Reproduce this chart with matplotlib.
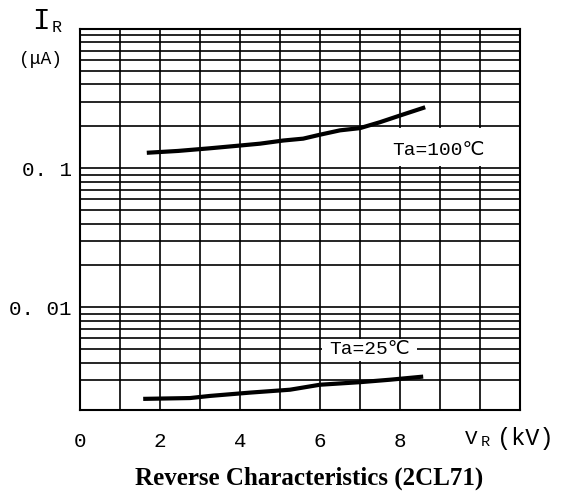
import matplotlib
matplotlib.use("Agg")
import matplotlib.pyplot as plt
from matplotlib.patches import Rectangle
from matplotlib.ticker import FixedLocator, NullFormatter

# ---- data ----
v_100 = [1.67, 2.45, 3.25, 3.95, 4.5, 5.08, 5.58, 6.0, 6.5, 7.0, 7.5, 8.0, 8.63]
i_100 = [0.129, 0.133, 0.139, 0.145, 0.150, 0.158, 0.163, 0.174, 0.187, 0.194, 0.214, 0.239, 0.274]

v_25 = [1.58, 2.75, 3.25, 4.25, 5.25, 6.0, 7.0, 7.75, 8.58]
i_25 = [0.00220, 0.00223, 0.00231, 0.00244, 0.00256, 0.00278, 0.00290, 0.00302, 0.00318]

x_ticks = [0, 2, 4, 6, 8]
x_ticklabels = ["0", "2", "4", "6", "8"]
y_ticks = [0.01, 0.1]
y_ticklabels = ["0. 01", "0. 1"]
y_minor = [0.003, 0.004, 0.005, 0.006, 0.007, 0.008, 0.009,
           0.02, 0.03, 0.04, 0.05, 0.06, 0.07, 0.08, 0.09,
           0.2, 0.3, 0.4, 0.5, 0.6, 0.7, 0.8, 0.9, 1.0]
x_grid = list(range(0, 12))

W, H = 566, 496
fig = plt.figure(figsize=(W / 100, H / 100), dpi=100)
fig.patch.set_facecolor("white")

L, R, T, B = 80, 520, 29, 410
ax = fig.add_axes([L / W, 1 - B / H, (R - L) / W, (B - T) / H])
ax.set_yscale("log")
ax.set_xlim(0, 11)
ax.set_ylim(0.00183, 1.0)

mono = ["Liberation Mono", "DejaVu Sans"]

# grid
for xv in x_grid:
    ax.axvline(xv, color="black", lw=1.2, zorder=1)
for yv in y_ticks + y_minor:
    ax.axhline(yv, color="black", lw=1.2, zorder=1)

ax.set_xticks(x_ticks)
ax.set_xticklabels(x_ticklabels, family=mono, fontsize=15)
ax.set_yticks(y_ticks)
ax.set_yticklabels(y_ticklabels, family=mono, fontsize=15)
ax.yaxis.set_minor_locator(FixedLocator([]))
ax.yaxis.set_minor_formatter(NullFormatter())
ax.tick_params(axis="both", which="both", length=0)
ax.tick_params(axis="x", pad=16)
ax.tick_params(axis="y", pad=6)
for s in ax.spines.values():
    s.set_linewidth(1.5)
    s.set_color("black")

# label boxes (white, hiding the grid)
ax.add_patch(Rectangle((7.06, 0.1045), 3.92, 0.0915, facecolor="white",
                       edgecolor="none", zorder=2))
ax.add_patch(Rectangle((6.06, 0.00415), 2.36, 0.00175, facecolor="white",
                       edgecolor="none", zorder=2))

# curves
ax.plot(v_100, i_100, color="black", lw=3.0, solid_capstyle="butt", zorder=3)
ax.plot(v_25, i_25, color="black", lw=3.0, solid_capstyle="butt", zorder=3)

ax.text(8.95, 0.134, "Ta=100℃", family=mono, fontsize=14,
        ha="center", va="center", zorder=4)
ax.text(7.25, 0.00502, "Ta=25℃", family=mono, fontsize=14,
        ha="center", va="center", zorder=4)

# axis labels
def ftext(x, y, s, **kw):
    fig.text(x / W, 1 - y / H, s, **kw)

ftext(41, 21, "I", family=mono, fontsize=21, ha="center", va="center")
ftext(57, 28, "R", family=mono, fontsize=12, ha="center", va="center")
ftext(40, 59, "(μA)", family=mono, fontsize=13, ha="center", va="center")

ftext(471, 439, "V", family=mono, fontsize=15, ha="center", va="center")
ftext(485, 442, "R", family=mono, fontsize=11, ha="center", va="center")
ftext(525, 439, "(kV)", family=mono, fontsize=17, ha="center", va="center")

ftext(309, 478, "Reverse Characteristics (2CL71)", family="Liberation Serif",
      fontweight="bold", fontsize=18, ha="center", va="center")

fig.savefig("out.png", dpi=100, facecolor="white")
